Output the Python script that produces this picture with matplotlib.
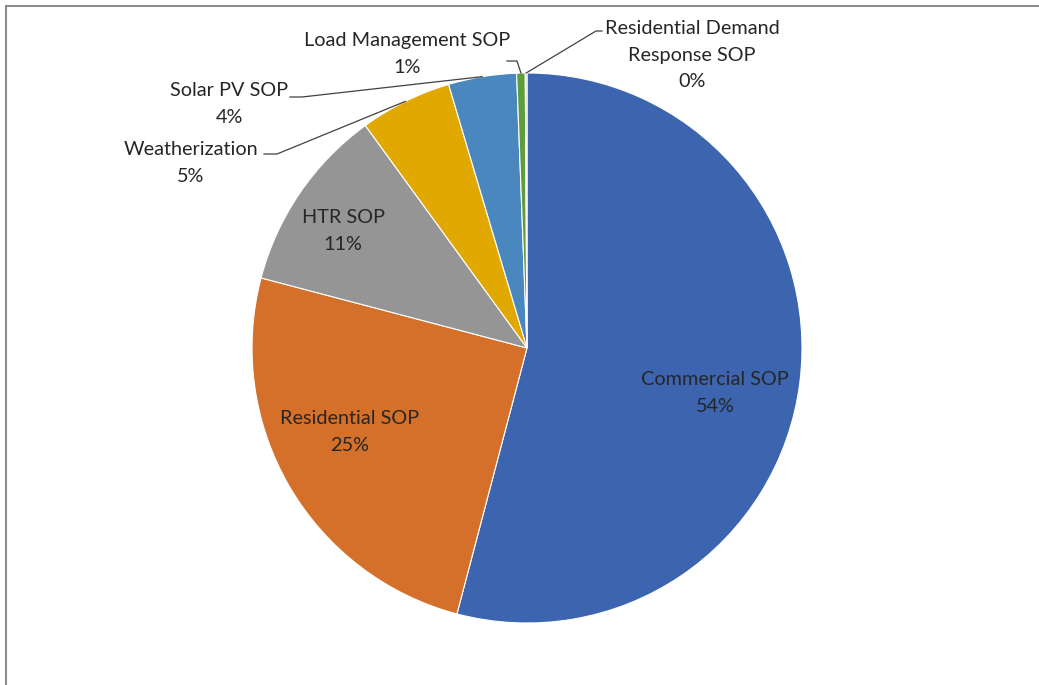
import numpy as np
import matplotlib.pyplot as plt
from matplotlib.patches import Rectangle

labels = ['Commercial SOP', 'Residential SOP', 'HTR SOP', 'Weatherization',
          'Solar PV SOP', 'Load Management SOP', 'Residential Demand\nResponse SOP']
shares = [54.1, 25.0, 10.9, 5.4, 4.0, 0.5, 0.1]
pct_text = ['54%', '25%', '11%', '5%', '4%', '1%', '0%']
colors = ['#3D64AE', '#D5702B', '#959595', '#E1A800', '#4A87BF', '#5E9C3C', '#C9C9C9']

plt.rcParams['font.family'] = ['Lato', 'DejaVu Sans']

fig = plt.figure(figsize=(10.39, 6.85), dpi=100)
W, H = 1039, 685
cx, cy, R = 527, 348, 275

# frame line (top and left only visible)
fig.patches.append(Rectangle((6 / W, -0.1), 1.2, (H - 6) / H + 0.1, transform=fig.transFigure,
                             fill=False, edgecolor='#8c8c8c', linewidth=1.5))

ax = fig.add_axes([(cx - R) / W, (H - cy - R) / H, 2 * R / W, 2 * R / H])
wedges, _ = ax.pie(shares, colors=colors, startangle=90, counterclock=False, radius=1,
                   wedgeprops=dict(edgecolor='white', linewidth=0.8))
ax.set_xlim(-1, 1)
ax.set_ylim(-1, 1)
ax.set_aspect('equal')
ax.axis('off')

def px(x, y):
    return (x - cx) / R, (cy - y) / R

fs = 14.3
txt = '#262626'
ls = 1.68

# labels inside the big slices
inside = {0: (715, 393), 1: (350, 432), 2: (343, 231)}
for i, (x, y) in inside.items():
    ax.text(*px(x, y), labels[i] + '\n' + pct_text[i], ha='center', va='center',
            fontsize=fs, color=txt, linespacing=ls)

# outside labels with leader lines
outside = {
    3: dict(text=(191, 163), elbow=[(277, 154), (264, 154)]),
    4: dict(text=(229, 104), elbow=[(302, 97), (290, 97)]),
    5: dict(text=(407, 54), elbow=[(517, 61), (507, 61)]),
    6: dict(text=(692, 55), elbow=[(596, 31), (602, 31)]),
}
for i, o in outside.items():
    w = wedges[i]
    ang = np.deg2rad((w.theta1 + w.theta2) / 2)
    start = (np.cos(ang), np.sin(ang))
    pts = [start] + [px(*p) for p in o['elbow']]
    xs, ys = zip(*pts)
    ax.plot(xs, ys, color='#404040', linewidth=0.9, clip_on=False)
    ax.text(*px(*o['text']), labels[i] + '\n' + pct_text[i], ha='center', va='center',
            fontsize=fs, color=txt, linespacing=ls)

fig.savefig('out.png', dpi=100)
